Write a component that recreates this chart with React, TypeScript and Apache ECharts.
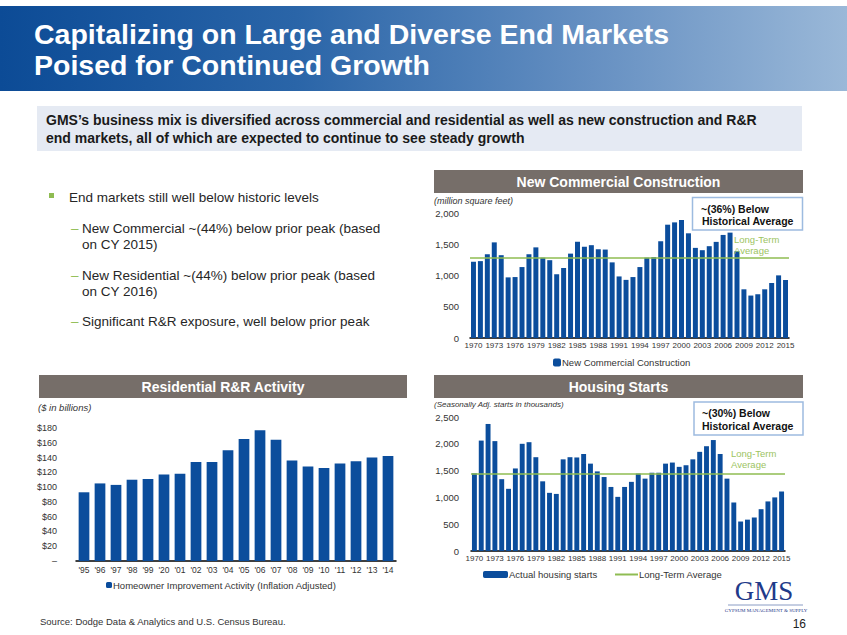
import React, { useEffect, useRef } from "react";
import * as echarts from "echarts";

// ---------- data ----------
const years = [
  "1970", "1971", "1972", "1973", "1974", "1975", "1976", "1977", "1978", "1979",
  "1980", "1981", "1982", "1983", "1984", "1985", "1986", "1987", "1988", "1989",
  "1990", "1991", "1992", "1993", "1994", "1995", "1996", "1997", "1998", "1999",
  "2000", "2001", "2002", "2003", "2004", "2005", "2006", "2007", "2008", "2009",
  "2010", "2011", "2012", "2013", "2014", "2015",
];

const commercialValues = [
  1220, 1230, 1340, 1530, 1325, 970, 975, 1135, 1340, 1450,
  1285, 1245, 1020, 1120, 1350, 1540, 1460, 1485, 1420, 1415,
  1210, 985, 930, 975, 1135, 1285, 1295, 1548, 1813, 1850,
  1888, 1675, 1442, 1405, 1469, 1538, 1649, 1686, 1389, 779,
  679, 700, 779, 880, 1002, 928,
];
const commercialAverage = 1290;

const housingValues = [
  1450, 2060, 2370, 2050, 1340, 1160, 1540, 2000, 2030, 1750,
  1300, 1085, 1065, 1710, 1750, 1745, 1810, 1630, 1485, 1380,
  1195, 1010, 1195, 1290, 1445, 1350, 1460, 1460, 1630, 1650,
  1570, 1600, 1710, 1850, 1955, 2070, 1810, 1350, 905, 550,
  585, 625, 780, 925, 1000, 1110,
];
const housingAverage = 1450;

const rrCategories = [
  "'95", "'96", "'97", "'98", "'99", "'20", "'01", "'02", "'03", "'04",
  "'05", "'06", "'07", "'08", "'09", "'10", "'11", "'12", "'13", "'14",
];
const rrValues = [
  93, 105, 103, 110, 111, 117, 118, 134, 134, 150,
  165, 177, 164, 136, 128, 126, 132, 135, 140, 142,
];

const titleLines = [
  "Capitalizing on Large and Diverse End Markets",
  "Poised for Continued Growth",
];
const subtitleLines = [
  "GMS\u2019s business mix is diversified across commercial and residential as well as new construction and R&R",
  "end markets, all of which are expected to continue to see steady growth",
];

// ---------- styles ----------
const FONT = '"Liberation Sans", Arial, Helvetica, sans-serif';
const BLUE = "#0b4d9c";
const GREEN = "#8fbc52";
const GREEN_TEXT = "#9cc462";
const HEADER = "#766e69";
const TEXT = "#262626";

function txt(text: string, x: number, y: number, font: string, fill: string, align = "left", extra: any = {}) {
  return {
    type: "text",
    z: 50,
    silent: true,
    style: { text, x, y, font, fill, textAlign: align, textVerticalAlign: "middle", ...extra },
  };
}

function header(x: number, y: number, w: number, h: number, label: string) {
  return [
    { type: "rect", z: 40, silent: true, shape: { x, y, width: w, height: h }, style: { fill: HEADER } },
    txt(label, x + w / 2, y + h / 2 + 0.5, `bold 14px ${FONT}`, "#ffffff", "center"),
  ];
}

function callout(x: number, y: number, w: number, h: number) {
  return [
    {
      type: "rect",
      z: 60,
      silent: true,
      shape: { x, y, width: w, height: h },
      style: { fill: "#ffffff", stroke: "#9dbbe0", lineWidth: 1.5 },
    },
  ];
}

const valueAxisBase = {
  type: "value",
  axisLine: { show: false },
  axisTick: { show: false },
  splitLine: { show: false },
};

const legendText = { fontSize: 9.5, color: "#333", padding: [0, 0, 0, -4] };

const option: any = {
  animation: false,
  backgroundColor: "#ffffff",
  textStyle: { fontFamily: FONT },
  grid: [
    { left: 470, right: 58, top: 213, bottom: 297, containLabel: false },
    { left: 76, right: 451, top: 428, bottom: 74, containLabel: false },
    { left: 471, right: 62, top: 417, bottom: 84, containLabel: false },
  ],
  xAxis: [
    {
      type: "category",
      gridIndex: 0,
      data: years,
      axisLine: { lineStyle: { color: "#000", width: 1.5 } },
      axisTick: { show: false },
      axisLabel: { interval: 2, fontSize: 8, color: "#333", margin: 3, hideOverlap: false },
    },
    {
      type: "category",
      gridIndex: 1,
      data: rrCategories,
      axisLine: { lineStyle: { color: "#000", width: 1.5 } },
      axisTick: { show: false },
      axisLabel: { interval: 0, fontSize: 8.5, color: "#333", margin: 4 },
    },
    {
      type: "category",
      gridIndex: 2,
      data: years,
      axisLine: { lineStyle: { color: "#000", width: 1.5 } },
      axisTick: { show: false },
      axisLabel: { interval: 2, fontSize: 8, color: "#333", margin: 3, hideOverlap: false },
    },
  ],
  yAxis: [
    {
      ...valueAxisBase,
      gridIndex: 0,
      min: 0,
      max: 2000,
      interval: 500,
      axisLabel: {
        fontSize: 9.5,
        color: "#333",
        margin: 11,
        formatter: (v: number) => v.toLocaleString("en-US"),
      },
    },
    {
      ...valueAxisBase,
      gridIndex: 1,
      min: 0,
      max: 180,
      interval: 20,
      axisLabel: {
        fontSize: 9,
        color: "#333",
        margin: 19,
        formatter: (v: number) => (v === 0 ? "\u2013" : "$" + v),
      },
    },
    {
      ...valueAxisBase,
      gridIndex: 2,
      min: 0,
      max: 2500,
      interval: 500,
      axisLabel: {
        fontSize: 9.5,
        color: "#333",
        margin: 12,
        formatter: (v: number) => v.toLocaleString("en-US"),
      },
    },
  ],
  legend: [
    {
      data: ["New Commercial Construction"],
      left: 548,
      top: 352.5,
      itemWidth: 8,
      itemHeight: 8,
      textStyle: legendText,
      selectedMode: false,
    },
    {
      data: ["Homeowner Improvement Activity (Inflation Adjusted)"],
      left: 101,
      top: 575,
      itemWidth: 6,
      itemHeight: 6,
      textStyle: legendText,
      selectedMode: false,
    },
    {
      data: ["Actual housing starts"],
      left: 478,
      top: 564.5,
      itemWidth: 25,
      itemHeight: 7,
      textStyle: legendText,
      selectedMode: false,
    },
    {
      data: [{ name: "Long-Term Average", icon: "rect" }],
      left: 610,
      top: 564.5,
      itemWidth: 23,
      itemHeight: 2,
      textStyle: legendText,
      selectedMode: false,
    },
  ],
  series: [
    {
      type: "bar",
      name: "New Commercial Construction",
      xAxisIndex: 0,
      yAxisIndex: 0,
      data: commercialValues,
      itemStyle: { color: BLUE },
      barCategoryGap: "28%",
      markLine: {
        silent: true,
        symbol: ["none", "none"],
        label: { show: false },
        lineStyle: { color: GREEN, width: 1.5, type: "solid" },
        data: [{ yAxis: commercialAverage }],
      },
    },
    {
      type: "bar",
      name: "Homeowner Improvement Activity (Inflation Adjusted)",
      xAxisIndex: 1,
      yAxisIndex: 1,
      data: rrValues,
      itemStyle: { color: BLUE },
      barCategoryGap: "33%",
    },
    {
      type: "bar",
      name: "Actual housing starts",
      xAxisIndex: 2,
      yAxisIndex: 2,
      data: housingValues,
      itemStyle: { color: BLUE },
      barCategoryGap: "28%",
      markLine: {
        silent: true,
        symbol: ["none", "none"],
        label: { show: false },
        lineStyle: { color: GREEN, width: 1.5, type: "solid" },
        data: [{ yAxis: housingAverage }],
      },
    },
    {
      type: "line",
      name: "Long-Term Average",
      xAxisIndex: 2,
      yAxisIndex: 2,
      data: [],
      symbol: "none",
      lineStyle: { color: GREEN, width: 2 },
      itemStyle: { color: GREEN },
    },
  ],
  graphic: [
    // Title banner
    {
      type: "rect",
      z: 10,
      silent: true,
      shape: { x: 0, y: 6, width: 847, height: 85 },
      style: {
        fill: new echarts.graphic.LinearGradient(0, 0, 1, 0, [
          { offset: 0, color: "#0c4b96" },
          { offset: 0.35, color: "#2a65a8" },
          { offset: 0.7, color: "#6690c2" },
          { offset: 1, color: "#9ab8d8" },
        ]),
      },
    },
    txt(titleLines[0], 34, 34, `bold 28.5px ${FONT}`, "#ffffff"),
    txt(titleLines[1], 34, 65, `bold 28.5px ${FONT}`, "#ffffff"),
    // Subtitle box
    {
      type: "rect",
      z: 10,
      silent: true,
      shape: { x: 37, y: 106, width: 765, height: 45 },
      style: { fill: "#e5eaf3" },
    },
    txt(subtitleLines[0], 46, 119.5, `bold 14px ${FONT}`, "#1a1a1a"),
    txt(subtitleLines[1], 46, 138, `bold 14px ${FONT}`, "#1a1a1a"),
    // Bullets
    {
      type: "rect",
      z: 50,
      silent: true,
      shape: { x: 49, y: 193, width: 5, height: 5 },
      style: { fill: GREEN },
    },
    txt("End markets still well below historic levels", 69, 197.5, `13.5px ${FONT}`, TEXT),
    txt("\u2013", 71, 228.5, `13.5px ${FONT}`, GREEN),
    txt("New Commercial ~(44%) below prior peak (based", 82, 228.5, `13.5px ${FONT}`, TEXT),
    txt("on CY 2015)", 82, 244.5, `13.5px ${FONT}`, TEXT),
    txt("\u2013", 71, 275, `13.5px ${FONT}`, GREEN),
    txt("New Residential ~(44%) below prior peak (based", 82, 275, `13.5px ${FONT}`, TEXT),
    txt("on CY 2016)", 82, 291, `13.5px ${FONT}`, TEXT),
    txt("\u2013", 71, 321.5, `13.5px ${FONT}`, GREEN),
    txt("Significant R&R exposure, well below prior peak", 82, 321.5, `13.5px ${FONT}`, TEXT),
    // Chart headers
    ...header(434, 170, 369, 23, "New Commercial Construction"),
    ...header(39, 375, 368, 23, "Residential R&R Activity"),
    ...header(434, 375, 369, 23, "Housing Starts"),
    // Units
    txt("(million square feet)", 434, 201, `italic 9px ${FONT}`, "#333"),
    txt("($ in billions)", 38, 407, `italic 9.5px ${FONT}`, "#333"),
    txt("(Seasonally Adj. starts in thousands)", 434, 404, `italic 8px ${FONT}`, "#333"),
    // Callouts
    ...callout(692.5, 197.5, 110, 32.5),
    { ...txt("~(36%) Below", 701, 208.5, `bold 10.5px ${FONT}`, "#111"), z: 70 },
    { ...txt("Historical Average", 702, 221, `bold 10.5px ${FONT}`, "#111"), z: 70 },
    ...callout(694, 402, 109, 33),
    { ...txt("~(30%) Below", 702, 412.5, `bold 10.5px ${FONT}`, "#111"), z: 70 },
    { ...txt("Historical Average", 702, 425.5, `bold 10.5px ${FONT}`, "#111"), z: 70 },
    // Long-term average labels
    { ...txt("Long-Term", 734, 239, `9.5px ${FONT}`, GREEN_TEXT), z: 70 },
    { ...txt("Average", 734, 250, `9.5px ${FONT}`, GREEN_TEXT), z: 70 },
    { ...txt("Long-Term", 731, 453.5, `9.5px ${FONT}`, GREEN_TEXT), z: 70 },
    { ...txt("Average", 731, 464.5, `9.5px ${FONT}`, GREEN_TEXT), z: 70 },
    // Footer
    txt("Source: Dodge Data & Analytics and U.S. Census Bureau.", 40, 621, `9.5px ${FONT}`, "#333"),
    txt("16", 806, 623.5, `12px ${FONT}`, "#222", "right"),
    // Logo
    txt("GMS", 764, 591, `27px "Liberation Serif", "DejaVu Serif", serif`, "#1f3a8a", "center"),
    {
      type: "line",
      z: 50,
      silent: true,
      shape: { x1: 728, y1: 605, x2: 803, y2: 605 },
      style: { stroke: "#8a9cc4", lineWidth: 1 },
    },
    txt("GYPSUM MANAGEMENT & SUPPLY", 766, 610, `5px "Liberation Serif", serif`, "#1f3a8a", "center"),
  ],
};

export default function App() {
  const ref = useRef<HTMLDivElement>(null);
  useEffect(() => {
    if (!ref.current) return;
    const chart = echarts.init(ref.current, null, { renderer: "svg" });
    chart.setOption(option);
    return () => chart.dispose();
  }, []);
  return (
    <div
      ref={ref}
      style={{ position: "absolute", left: 0, top: 0, width: 847, height: 635, background: "#fff" }}
    />
  );
}
